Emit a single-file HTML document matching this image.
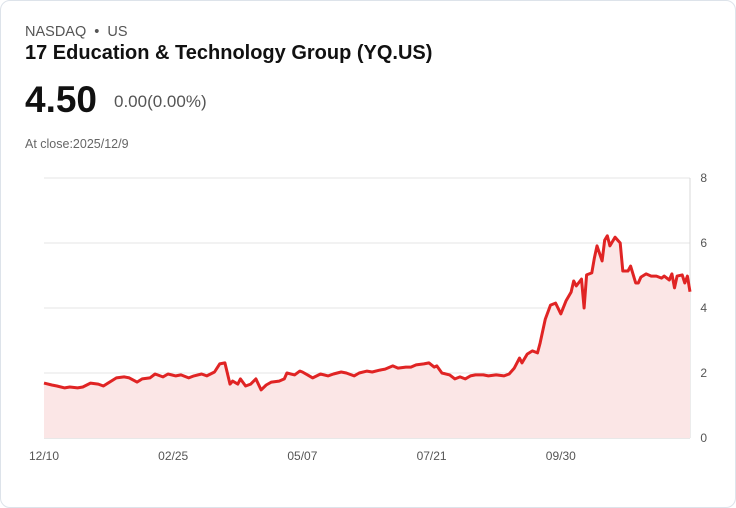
<!DOCTYPE html>
<html><head><meta charset="utf-8"><style>
html,body{margin:0;padding:0;background:#fff;}
body{width:736px;height:508px;overflow:hidden;font-family:"Liberation Sans",sans-serif;}
.card{position:absolute;left:0;top:0;width:734px;height:506px;border:1px solid #dde3ea;border-radius:10px;background:#fff;}
.t{position:absolute;white-space:nowrap;}
</style></head><body>
<div class="card">
<div class="t" style="left:24px;top:23px;font-size:14.5px;color:#555;">NASDAQ&nbsp; • &nbsp;US</div>
<div class="t" style="left:24px;top:41px;font-size:20px;font-weight:bold;color:#111;">17 Education &amp; Technology Group (YQ.US)</div>
<div class="t" style="left:24px;top:78px;font-size:37px;font-weight:bold;color:#111;">4.50</div>
<div class="t" style="left:113px;top:91px;font-size:17px;color:#555;">0.00(0.00%)</div>
<div class="t" style="left:24px;top:136px;font-size:12.5px;color:#666;">At close:2025/12/9</div>
<svg id="chart" width="736" height="508" style="position:absolute;left:-1px;top:-1px;"></svg>
</div>
<script>
const days=[0,3,5,8,10,13,15,18,21,23,26,28,31,33,36,38,41,43,46,48,51,53,56,58,61,63,66,68,70,72,73,75,76,78,80,82,84,86,88,91,93,94,97,99,100,102,104,107,110,112,115,117,120,122,125,127,130,132,135,137,140,142,144,147,149,151,152,154,157,159,161,163,165,167,170,172,175,178,180,182,184,185,187,189,191,192,194,196,198,200,202,204,205,206,208,209,210,212,213,214,216,217,218,219,221,223,224,226,227,229,230,231,233,235,237,239,240,242,243,244,245,247,248,249,250];
const prices=[1.69,1.63,1.60,1.54,1.57,1.54,1.57,1.69,1.66,1.60,1.75,1.85,1.88,1.85,1.72,1.82,1.85,1.97,1.88,1.97,1.91,1.94,1.85,1.91,1.97,1.91,2.03,2.28,2.31,1.66,1.75,1.66,1.82,1.60,1.66,1.82,1.48,1.63,1.72,1.75,1.82,2.00,1.94,2.06,2.03,1.94,1.85,1.97,1.91,1.97,2.03,2.00,1.91,2.00,2.06,2.03,2.09,2.12,2.22,2.15,2.18,2.18,2.25,2.28,2.31,2.18,2.22,2.00,1.94,1.82,1.88,1.82,1.91,1.94,1.94,1.91,1.94,1.91,1.97,2.15,2.46,2.31,2.58,2.68,2.62,2.92,3.66,4.09,4.15,3.82,4.22,4.49,4.83,4.68,4.89,4.00,5.02,5.08,5.54,5.91,5.45,6.09,6.22,5.91,6.18,6.00,5.14,5.14,5.29,4.77,4.77,4.95,5.05,4.98,4.98,4.92,4.98,4.86,5.05,4.62,4.98,5.02,4.77,4.98,4.50];
const yTicks=[0,2,4,6,8];
const xLabels=["12/10","02/25","05/07","07/21","09/30"];
const xLabelDays=[0,50,100,150,200];
const NS="http://www.w3.org/2000/svg";
const svg=document.getElementById('chart');
const X0=44,X1=690,Y0=438,Y1=178;
const xs=d=>X0+(d/250)*(X1-X0);
const ys=v=>Y0-(v/8)*(Y0-Y1);
function mk(tag,at){const e=document.createElementNS(NS,tag);for(const k in at)e.setAttribute(k,at[k]);svg.appendChild(e);return e;}
yTicks.forEach(v=>{
 const g=mk('line',{x1:X0,x2:X1,y1:ys(v),y2:ys(v),stroke:v===0?'#d0d0d0':'#e6e6e6','stroke-width':1});
 
 
 const t=mk('text',{x:707,y:ys(v)+4,'text-anchor':'end','font-size':12,fill:'#555','font-family':'Liberation Sans, sans-serif'});
 t.textContent=v;
 
 
});
const ax=mk('line',{x1:X1,x2:X1,y1:Y1,y2:Y0,stroke:'#d8d8d8','stroke-width':1});


xLabels.forEach((l,i)=>{
 const t=mk('text',{x:xs(xLabelDays[i]),y:460,'text-anchor':'middle','font-size':12,fill:'#555','font-family':'Liberation Sans, sans-serif'});
 t.textContent=l;
 
 
});
let d='';prices.forEach((p,i)=>{d+=(i?'L':'M')+xs(days[i]).toFixed(1)+','+ys(p).toFixed(1);});
const area=mk('path',{d:d+'L'+xs(days[days.length-1])+','+Y0+'L'+xs(days[0])+','+Y0+'Z',fill:'#fbe6e6'});


const line=mk('path',{d:d,fill:'none',stroke:'#e02424','stroke-width':3,'stroke-linejoin':'round'});


</script>
</body></html>
